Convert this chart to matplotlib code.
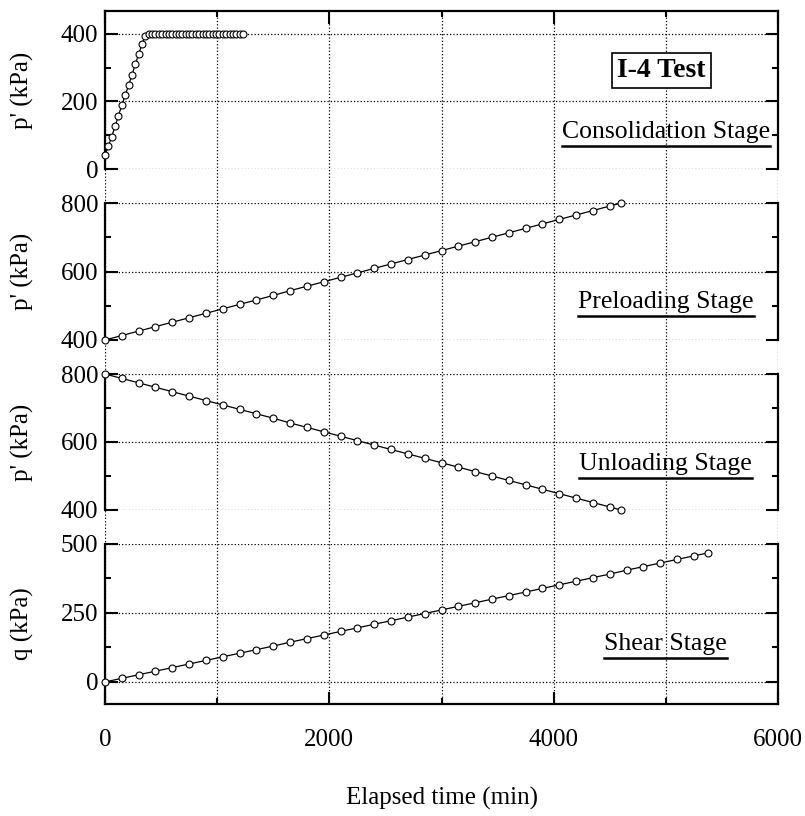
import matplotlib
matplotlib.use("Agg")
import matplotlib.pyplot as plt
from matplotlib.ticker import MultipleLocator
from matplotlib.lines import Line2D

plt.rcParams['font.family'] = ['Liberation Serif', 'DejaVu Serif']
plt.rcParams['font.size'] = 18

# consolidation stage (p', kPa)
cons_t = [0, 30, 60, 90, 120, 150, 180, 210, 240, 270, 300, 330, 360, 390,
          420, 450, 480, 510, 540, 570, 600, 630, 660, 690, 720, 750, 780, 810,
          840, 870, 900, 930, 960, 990, 1020, 1050, 1080, 1110, 1140, 1170, 1200, 1230]
cons_p = [40, 68, 96, 127, 158, 189, 218, 248, 278, 310, 340, 370, 395, 400,
          400, 400, 400, 400, 400, 400, 400, 400, 400, 400, 400, 400, 400, 400,
          400, 400, 400, 400, 400, 400, 400, 400, 400, 400, 400, 400, 400, 400]

# preloading stage (p', kPa)
pre_t = [0, 150, 300, 450, 600, 750, 900, 1050, 1200, 1350, 1500, 1650, 1800, 1950,
         2100, 2250, 2400, 2550, 2700, 2850, 3000, 3150, 3300, 3450, 3600, 3750,
         3900, 4050, 4200, 4350, 4500, 4600]
pre_p = [400, 413, 426, 439, 452, 465, 478, 491, 504, 517, 530, 544, 557, 570,
         583, 596, 609, 622, 635, 648, 661, 674, 687, 700, 713, 726,
         739, 752, 765, 778, 791, 800]

# unloading stage (p', kPa)
unl_t = [0, 150, 300, 450, 600, 750, 900, 1050, 1200, 1350, 1500, 1650, 1800, 1950,
         2100, 2250, 2400, 2550, 2700, 2850, 3000, 3150, 3300, 3450, 3600, 3750,
         3900, 4050, 4200, 4350, 4500, 4600]
unl_p = [800, 787, 774, 761, 748, 735, 722, 709, 696, 683, 670, 656, 643, 630,
         617, 604, 591, 578, 565, 552, 539, 526, 513, 500, 487, 474,
         461, 448, 435, 422, 409, 400]

# shear stage (q, kPa)
sh_t = [0, 150, 300, 450, 600, 750, 900, 1050, 1200, 1350, 1500, 1650, 1800, 1950,
        2100, 2250, 2400, 2550, 2700, 2850, 3000, 3150, 3300, 3450, 3600, 3750,
        3900, 4050, 4200, 4350, 4500, 4650, 4800, 4950, 5100, 5250, 5380]
sh_q = [0, 13, 26, 39, 52, 65, 78, 91, 104, 117, 130, 144, 157, 170,
        183, 196, 209, 222, 235, 248, 261, 274, 287, 300, 313, 326,
        339, 352, 365, 378, 391, 405, 418, 431, 444, 457, 468]

grid_x = [0, 1000, 2000, 3000, 4000, 5000, 6000]

W, H = 805, 816
L, R = 105, 778


def box(top, bot):
    return [L / W, (H - bot) / H, (R - L) / W, (bot - top) / H]


fig = plt.figure(figsize=(W / 100, H / 100), dpi=100)

bg = fig.add_axes(box(11, 704))
bg.set_xlim(0, 6000)
bg.set_ylim(0, 1)
bg.axis('off')
for gx in grid_x:
    bg.axvline(gx, ls=':', color='k', lw=0.9)


def setup(ax, ylim, major, ylabel, top=False, bottom=False):
    ax.set_facecolor('none')
    ax.set_xlim(0, 6000)
    ax.set_ylim(*ylim)
    ax.spines['top'].set_visible(top)
    ax.spines['bottom'].set_visible(bottom)
    for s in ax.spines.values():
        s.set_linewidth(1.6)
    ax.yaxis.set_major_locator(MultipleLocator(major))
    ax.yaxis.set_minor_locator(MultipleLocator(major / 2))
    ax.xaxis.set_major_locator(MultipleLocator(2000))
    ax.xaxis.set_minor_locator(MultipleLocator(1000))
    ax.tick_params(axis='both', which='both', direction='in', width=1.5)
    ax.tick_params(axis='both', which='major', length=9)
    ax.tick_params(axis='both', which='minor', length=4.5)
    ax.tick_params(axis='y', which='both', left=True, right=True, pad=5)
    ax.tick_params(axis='x', which='both', top=top, bottom=bottom,
                   labelbottom=bottom, labeltop=False, pad=18)
    ax.grid(axis='y', which='major', ls=':', color='k', lw=0.9)
    ax.set_ylabel(ylabel)
    ax.yaxis.set_label_coords(-0.105, 0.5)


def series(ax, t, v):
    ax.plot(t, v, '-', color='k', lw=0.9, marker='o', ms=5,
            mfc='white', mec='k', mew=0.8, clip_on=False, zorder=3)


ax1 = fig.add_axes(box(11, 169))
setup(ax1, (0, 468), 200, "p' (kPa)", top=True)
series(ax1, cons_t, cons_p)

ax2 = fig.add_axes(box(203, 340))
setup(ax2, (400, 800), 200, "p' (kPa)")
series(ax2, pre_t, pre_p)

ax3 = fig.add_axes(box(374, 510))
setup(ax3, (400, 800), 200, "p' (kPa)")
series(ax3, unl_t, unl_p)

ax4 = fig.add_axes(box(544, 704))
setup(ax4, (-80, 500), 250, "q (kPa)", bottom=True)
series(ax4, sh_t, sh_q)
ax4.set_xlabel('Elapsed time (min)', labelpad=26)

ax1.text(4960, 293, 'I-4 Test', ha='center', va='center', fontsize=20,
         fontweight='bold',
         bbox=dict(boxstyle='square,pad=0.18', fc='white', ec='k', lw=1.2))

labels = [
    (ax1, 'Consolidation Stage', 110),
    (ax2, 'Preloading Stage', 511),
    (ax3, 'Unloading Stage', 535),
    (ax4, 'Shear Stage', 138),
]
texts = []
for ax, s, y in labels:
    texts.append(ax.text(5000, y, s, ha='center', va='center', fontsize=18.5))

fig.canvas.draw()
rend = fig.canvas.get_renderer()
inv = fig.transFigure.inverted()
for t in texts:
    bb = t.get_window_extent(rend)
    (x0, y0), (x1, _) = inv.transform([(bb.x0, bb.y0 - 3), (bb.x1, bb.y0 - 3)])
    fig.add_artist(Line2D([x0, x1], [y0, y0], color='k', lw=1.8,
                          transform=fig.transFigure))

fig.savefig('out.png', dpi=100)
